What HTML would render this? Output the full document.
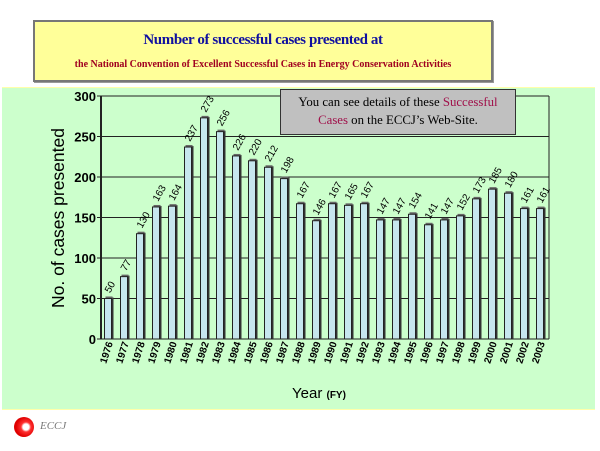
<!DOCTYPE html>
<html><head><meta charset="utf-8"><style>
html,body{margin:0;padding:0;background:#fff;}
body{width:600px;height:451px;position:relative;overflow:hidden;font-family:"Liberation Sans",sans-serif;}
</style></head><body>
<div style="position:absolute;left:33px;top:20px;width:456px;height:58px;background:#ffff99;border:2px solid #777;box-shadow:1px 1px 0 #999;">
 <div style="position:absolute;top:10px;width:100%;text-align:center;font-family:'Liberation Serif',serif;font-weight:bold;font-size:15px;letter-spacing:-0.4px;color:#1010a0;">Number of successful cases presented at</div>
 <div style="position:absolute;top:37px;width:100%;text-align:center;font-family:'Liberation Serif',serif;font-weight:bold;font-size:10px;color:#a00020;">the National Convention of Excellent Successful Cases in Energy Conservation Activities</div>
</div>
<div style="position:absolute;left:2px;top:87px;width:593px;height:321px;background:#ccffcc;border-top:1px solid #ffffaa;border-bottom:1px solid #ffffaa;"></div>
<svg id="chart" width="600" height="451" style="position:absolute;left:0;top:0;"></svg>
<div style="position:absolute;left:280px;top:89px;width:210px;height:41px;padding:3px 12px 0 12px;background:#c0c0c0;border:1px solid #333;font-family:'Liberation Serif',serif;font-size:12.8px;text-align:center;line-height:18px;box-sizing:content-box;">You can see details of these <span style="color:#a0104a">Successful Cases</span> on the ECCJ’s Web-Site.</div>
<div style="position:absolute;left:14px;top:417px;width:20px;height:20px;border-radius:50%;background:radial-gradient(circle at 60% 50%,#fff 0,#fff 3px,#ff3030 5px,#e00000 10px);"></div>
<div style="position:absolute;left:40px;top:420px;font-family:'Liberation Serif',serif;font-style:italic;font-size:11px;color:#777;">ECCJ</div>
<script>
const years=[1976,1977,1978,1979,1980,1981,1982,1983,1984,1985,1986,1987,1988,1989,1990,1991,1992,1993,1994,1995,1996,1997,1998,1999,2000,2001,2002,2003];
const values=[50,77,130,163,164,237,273,256,226,220,212,198,167,146,167,165,167,147,147,154,141,147,152,173,185,180,161,161];
const yTicks=[0,50,100,150,200,250,300];
const svg=document.getElementById('chart');
const NS='http://www.w3.org/2000/svg';
const L=101,R=549,T=96,B=339,YMAX=300;
const band=(R-L)/years.length;
function y(v){return B-(v/YMAX)*(B-T);}
function xc(i){return L+band*i+band/2;}
function mk(tag,attrs,parent){const e=document.createElementNS(NS,tag);for(const k in attrs)e.setAttribute(k,attrs[k]);(parent||svg).appendChild(e);return e;}
yTicks.forEach(t=>{
 const g=mk('line',{x1:L,x2:R,y1:y(t),y2:y(t),stroke:'#222','stroke-width':1});
 
 
 mk('line',{x1:L-4,x2:L,y1:y(t),y2:y(t),stroke:'#222'});
 const lb=mk('text',{x:L-5,y:y(t)+5,'text-anchor':'end','font-size':13,'font-weight':'bold','font-family':'Liberation Sans, sans-serif'});
 lb.textContent=t;
 
 
});
mk('line',{x1:L,x2:L,y1:T,y2:B,stroke:'#222','stroke-width':2});
mk('line',{x1:R,x2:R,y1:T,y2:B,stroke:'#222'});
years.forEach((yr,i)=>{
 const cx=xc(i),top=y(values[i]),w=7,x0=cx-w/2-1;
 mk('rect',{x:x0+w,y:top-1,width:2,height:B-top+1,fill:'#333'});
 mk('rect',{x:x0+1,y:top-2,width:w,height:2,fill:'#666'});
 const r=mk('rect',{x:x0,y:top,width:w,height:B-top,fill:'#c6e6ee',stroke:'#222','stroke-width':1});
 
 
 const v=mk('text',{x:0,y:0,'font-size':10,'font-family':'Liberation Sans, sans-serif',transform:`translate(${cx+1},${top-5}) rotate(-60)`});
 v.textContent=values[i];
 
 
 const xl=mk('text',{x:0,y:0,'text-anchor':'end','font-size':10,'font-weight':'bold','font-family':'Liberation Sans, sans-serif',transform:`translate(${cx+4},${B+4}) rotate(-72)`});
 xl.textContent=yr;
 
 
});
const yt=mk('text',{x:0,y:0,'text-anchor':'middle','font-size':17.5,'font-family':'Liberation Sans, sans-serif',transform:'translate(64,218) rotate(-90)'});
yt.textContent='No. of cases presented';


const xt=mk('text',{x:292,y:398,'font-size':15,'font-family':'Liberation Sans, sans-serif'});
xt.innerHTML='Year <tspan font-size="10" font-weight="bold">(FY)</tspan>';


</script>
</body></html>
